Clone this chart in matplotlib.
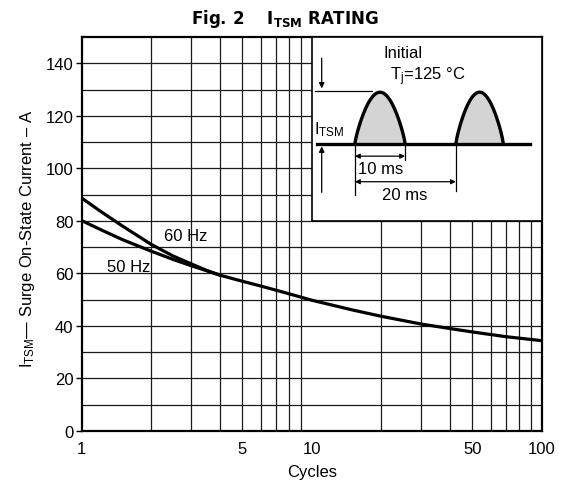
import matplotlib.pyplot as plt
import numpy as np

plt.rcParams['font.family'] = ['Liberation Sans', 'DejaVu Sans']
plt.rcParams['mathtext.fontset'] = 'custom'
plt.rcParams['mathtext.rm'] = 'Liberation Sans'

# data
cycles_60 = [1, 1.2, 1.5, 2, 2.5, 3, 3.5, 4, 5, 6, 7, 8, 10, 15, 20, 30, 40, 50, 70, 100]
itsm_60 = [88.7, 83.8, 78.1, 71.1, 66.6, 63.6, 61.1, 59.3, 57.0, 55.2, 53.6, 52.2, 49.8,
           46.1, 43.7, 40.7, 39.0, 37.7, 35.9, 34.4]
cycles_50 = [1, 1.2, 1.5, 2, 2.5, 3, 3.5, 4]
itsm_50 = [80.1, 76.8, 72.9, 68.5, 65.3, 62.9, 61.0, 59.3]

fig = plt.figure(figsize=(5.69, 4.89), dpi=100)
ax = fig.add_axes([0.1436, 0.1166, 0.8084, 0.8056])

ax.set_xscale('log')
ax.set_xlim(1, 100)
ax.set_ylim(0, 150)

# grid
for x in list(range(2, 10)) + list(range(20, 100, 10)):
    ax.axvline(x, color='#1a1a1a', lw=0.9, zorder=1)
for y in range(10, 150, 10):
    ax.axhline(y, color='#1a1a1a', lw=0.9, zorder=1)

ax.plot(cycles_60, itsm_60, color='black', lw=2.3, zorder=3, solid_capstyle='butt')
ax.plot(cycles_50, itsm_50, color='black', lw=2.3, zorder=3, solid_capstyle='butt')
ax.text(2.28, 74.3, '60 Hz', fontsize=12, va='center', ha='left', zorder=4)
ax.text(1.29, 62.6, '50 Hz', fontsize=12, va='center', ha='left', zorder=4)

ax.set_xticks([1, 5, 10, 50, 100])
ax.set_xticklabels(['1', '5', '10', '50', '100'])
ax.minorticks_off()
ax.set_yticks(range(0, 141, 20))
ax.tick_params(axis='x', length=0, labelsize=12, pad=7)
ax.tick_params(axis='y', length=4, width=1, direction='out', labelsize=12, pad=2)
for s in ax.spines.values():
    s.set_linewidth(1.6)

ax.set_xlabel('Cycles', fontsize=12, labelpad=12)
ax.xaxis.set_label_coords(0.5, -0.085)
ax.set_ylabel(r'I$\mathregular{_{TSM}}$— Surge On-State Current – A', fontsize=12)
ax.yaxis.set_label_coords(-0.098, 0.49)

fig.text(0.5, 0.962, r'Fig. 2    I$\mathregular{_{TSM}}$ RATING', ha='center', va='center',
         fontsize=12, fontweight='bold', family='DejaVu Sans')

# waveform inset (covers 10..100 cycles, 80..150 A)
ins = ax.inset_axes([0.5, 80 / 150, 0.5, 70 / 150])
ins.set_xlim(0, 1)
ins.set_ylim(0, 1)
ins.set_xticks([])
ins.set_yticks([])
ins.set_facecolor('white')
for s in ins.spines.values():
    s.set_linewidth(1.2)
ins.set_zorder(5)

base = 0.42
peak = 0.70
for u0, u1 in [(0.188, 0.406), (0.627, 0.833)]:
    t = np.linspace(0, 1, 60)
    uu = u0 + (u1 - u0) * t
    vv = base + (peak - base) * np.sin(np.pi * t) ** 0.8
    ins.fill_between(uu, base, vv, color='#d4d4d4', lw=0)
    ins.plot(uu, vv, color='black', lw=2.4)
ins.plot([0.022, 0.949], [base, base], color='black', lw=2.4)

ins.plot([0.014, 0.261], [0.705, 0.705], color='black', lw=0.9)
ins.annotate('', xy=(0.0435, 0.705), xytext=(0.0435, 0.90),
             arrowprops=dict(arrowstyle='-|>', color='black', lw=0.9, mutation_scale=8))
ins.annotate('', xy=(0.0435, base), xytext=(0.0435, 0.14),
             arrowprops=dict(arrowstyle='-|>', color='black', lw=0.9, mutation_scale=8))
ins.text(0.012, 0.50, r'I$\mathregular{_{TSM}}$', fontsize=12, ha='left', va='center')

ins.text(0.397, 0.915, 'Initial', fontsize=12, ha='center', va='center')
ins.text(0.34, 0.79, r'T$\mathregular{_j}$=125 °C', fontsize=12, ha='left', va='center')

ins.plot([0.188, 0.188], [base, 0.14], color='black', lw=0.9)
ins.plot([0.406, 0.406], [base, 0.33], color='black', lw=0.9)
ins.plot([0.627, 0.627], [base, 0.16], color='black', lw=0.9)
ins.annotate('', xy=(0.188, 0.352), xytext=(0.406, 0.352),
             arrowprops=dict(arrowstyle='<|-|>', color='black', lw=0.9, mutation_scale=7,
                             shrinkA=0, shrinkB=0))
ins.annotate('', xy=(0.188, 0.213), xytext=(0.627, 0.213),
             arrowprops=dict(arrowstyle='<|-|>', color='black', lw=0.9, mutation_scale=7,
                             shrinkA=0, shrinkB=0))
ins.text(0.30, 0.285, '10 ms', fontsize=12, ha='center', va='center')
ins.text(0.405, 0.145, '20 ms', fontsize=12, ha='center', va='center')

fig.savefig('out.png', dpi=100)
